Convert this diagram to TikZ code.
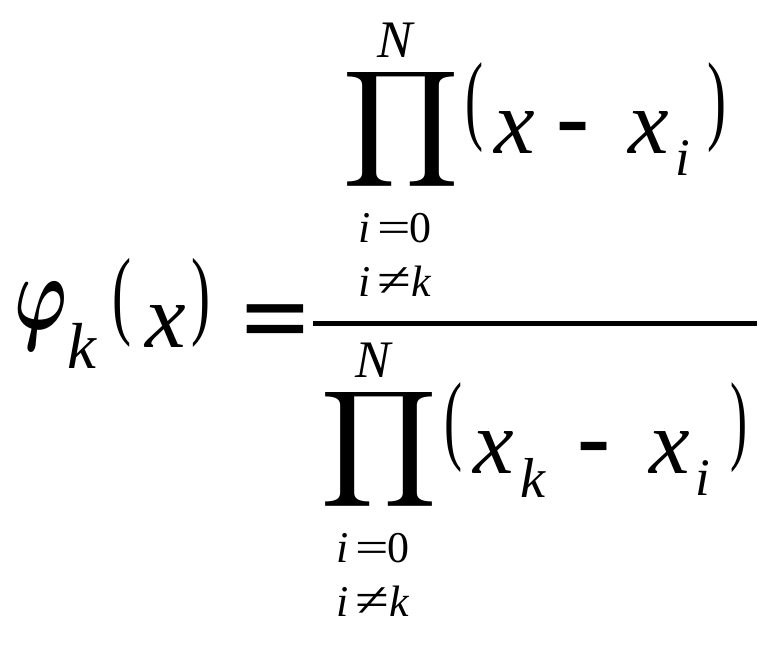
\documentclass[tikz,border=0pt]{standalone}
\usepackage{fontspec}
\setmainfont{Liberation Serif}
\setsansfont{Liberation Sans}
\usepackage{graphicx}

\tikzset{
	glyph/.style={inner sep=0pt, outer sep=0pt},
	big/.style={glyph, anchor=base, font=\itshape\fontsize{26}{26}\selectfont},
	sub/.style={glyph, anchor=base, font=\itshape\fontsize{16}{16}\selectfont},
	lim/.style={glyph, anchor=base, font=\fontsize{12.5}{12.5}\selectfont},
	minus/.style={glyph, anchor=base, font=\sffamily\fontsize{30}{30}\selectfont}
}

\newcommand{\fitglyph}[3] % width, total height, glyph
{\resizebox*{#1}{#2}{#3}}

\newcommand{\prodblock}[3] % name, x in px, y in px (top left of the product sign)
{
	% product sign
	\node[glyph] (#1-prod) at (#2+54,#3+59) {\fitglyph{1.17cm}{1.30cm}{$\displaystyle\prod$}};
	% upper limit
	\node[lim, font=\itshape\fontsize{15}{15}\selectfont] (#1-N) at (#2+48,#3-12.5) {N};
	% lower limits
	\node[lim, font=\itshape\fontsize{12.5}{12.5}\selectfont] (#1-i0) at (#2+18,#3+172) {i};
	\node[lim] (#1-eq) at (#2+47,#3+172) {\scalebox{1.35}[1]{=}};
	\node[lim] (#1-zero) at (#2+73,#3+172) {0};
	\node[lim, font=\itshape\fontsize{12.5}{12.5}\selectfont] (#1-i1) at (#2+18,#3+226) {i};
	\node[lim] (#1-neq) at (#2+47,#3+226) {\scalebox{1.4}[1.1]{≠}};
	\node[lim, font=\itshape\fontsize{12.5}{12.5}\selectfont] (#1-k) at (#2+74,#3+226) {k};
}

\begin{document}
\begin{tikzpicture}[x=0.01cm, y=-0.01cm]
	% 775px x 645px, 1px = 0.1mm
	\useasboundingbox (0,0) rectangle (775,645);
	
	% left hand side
	\node[glyph] (phi) at (41,316) {\fitglyph{0.53cm}{0.68cm}{\boldmath$\varphi$}};
	\node[sub, font=\itshape\fontsize{18.5}{18.5}\selectfont] (phi-k) at (82,368) {k};
	\node[glyph] (lhs-lp) at (122.5,302.5) {\fitglyph{0.19cm}{0.89cm}{(}};
	\node[big] (lhs-x) at (166,347) {x};
	\node[glyph] (lhs-rp) at (201.5,302.5) {\fitglyph{0.19cm}{0.89cm}{)}};
	\node[minus, font=\sffamily\bfseries\fontsize{32}{32}\selectfont] (eq) at (275,344) {\scalebox{1}[0.68]{=}};
	
	% fraction bar
	\coordinate (bar-l) at (313,323.5);
	\coordinate (bar-r) at (757,323.5);
	\draw[line width=1.15pt] (bar-l) -- (bar-r);
	
	% numerator
	\prodblock{num}{347}{70}
	\node[glyph] (num-lp) at (475,108) {\fitglyph{0.18cm}{0.90cm}{(}};
	\node[big] (num-x) at (515,153) {x};
	\node[minus] (num-minus) at (573,154) {-};
	\node[big] (num-xi) at (648.5,153) {x};
	\node[sub, font=\itshape\fontsize{15}{15}\selectfont] (num-i) at (682.5,175) {i};
	\node[glyph] (num-rp) at (717.5,108) {\fitglyph{0.19cm}{0.90cm}{)}};
	
	% denominator
	\prodblock{den}{325}{390}
	\node[glyph] (den-lp) at (454,428) {\fitglyph{0.18cm}{0.90cm}{(}};
	\node[big] (den-xk) at (494,473) {x};
	\node[sub] (den-k) at (532.5,497) {k};
	\node[minus] (den-minus) at (594.5,474) {-};
	\node[big] (den-xi) at (670,473) {x};
	\node[sub, font=\itshape\fontsize{15}{15}\selectfont] (den-i) at (702.5,495) {i};
	\node[glyph] (den-rp) at (738.5,428) {\fitglyph{0.17cm}{0.90cm}{)}};
\end{tikzpicture}
\end{document}
